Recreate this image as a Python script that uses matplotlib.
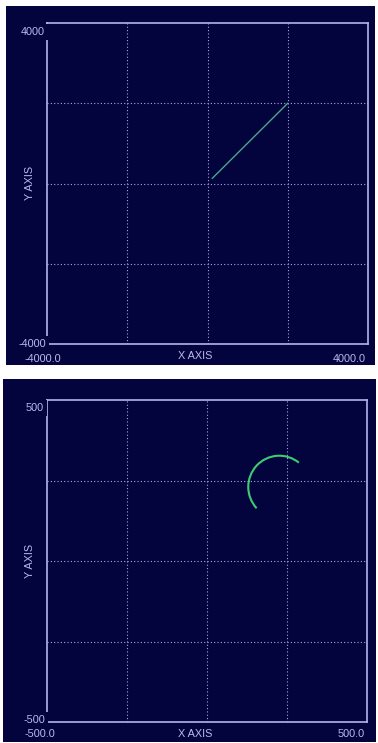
import numpy as np
import matplotlib
matplotlib.use('Agg')
import matplotlib.pyplot as plt
from matplotlib.patches import Rectangle, Arc

plt.rcParams['font.family'] = ['Liberation Sans', 'DejaVu Sans']

W, H = 378, 743          # figure size in pixels
NAVY = '#03033e'
FG = '#babaee'           # text colour
GRID = '#a8a8dc'
SPINE = '#b4b4ec'

# --- panel 1 : straight move
lim1 = 4000
line_x = [120, 2000]
line_y = [130, 2000]

# --- panel 2 : arc move (centre, radius, start/end angle in degrees)
lim2 = 500
arc_center = (226, 230)
arc_radius = 97
arc_theta = (51, 223)


def px_rect(x0, y0, x1, y1):
    # pixel box (top-left origin) -> figure fraction [l, b, w, h]
    return [x0 / W, 1 - y1 / H, (x1 - x0) / W, (y1 - y0) / H]


def px_text(fig, x, y, s, **kw):
    fig.text(x / W, 1 - y / H, s, color=FG, fontsize=7.8, **kw)


def setup_axes(ax, lim):
    ax.set_facecolor(NAVY)
    ax.set_xlim(-lim, lim)
    ax.set_ylim(-lim, lim)
    ax.set_xticks([-lim / 2, 0, lim / 2])
    ax.set_yticks([-lim / 2, 0, lim / 2])
    ax.tick_params(length=0, labelbottom=False, labelleft=False)
    ax.grid(True, color=GRID, linestyle=(0, (1, 2)), linewidth=0.8)
    for sp in ax.spines.values():
        sp.set_color(SPINE)
        sp.set_linewidth(1.2)


fig = plt.figure(figsize=(W / 100, H / 100), dpi=100, facecolor='white')

# dark panel backgrounds
for x0, y0, x1, y1 in [(6, 6, 375, 365), (3, 379, 376, 742)]:
    l, b, w, h = px_rect(x0, y0, x1, y1)
    fig.patches.append(Rectangle((l, b), w, h, transform=fig.transFigure,
                                 facecolor=NAVY, edgecolor='none', zorder=-1))

ax1 = fig.add_axes(px_rect(47, 23, 368, 344))
setup_axes(ax1, lim1)
ax1.plot(line_x, line_y, color='#48a888', linewidth=1.0)

ax2 = fig.add_axes(px_rect(47, 400, 367, 722))
setup_axes(ax2, lim2)
ax2.add_patch(Arc(arc_center, 2 * arc_radius, 2 * arc_radius,
                  theta1=arc_theta[0], theta2=arc_theta[1],
                  color='#3ccc72', linewidth=1.5))

box = dict(facecolor=NAVY, edgecolor='none', pad=2.5)

# labels, panel 1
px_text(fig, 45, 35, str(lim1), ha='right', va='baseline', bbox=box, zorder=5)
px_text(fig, 46, 347, str(-lim1), ha='right', va='baseline', bbox=box, zorder=5)
px_text(fig, 25, 362, '%.1f' % -lim1, ha='left', va='baseline')
px_text(fig, 366, 362, '%.1f' % lim1, ha='right', va='baseline')
px_text(fig, 195.5, 359, 'X AXIS', ha='center', va='baseline')
px_text(fig, 30, 183, 'Y AXIS', ha='center', va='center', rotation=90)

# labels, panel 2
px_text(fig, 44, 411, str(lim2), ha='right', va='baseline', bbox=box, zorder=5)
px_text(fig, 45, 723, str(-lim2), ha='right', va='baseline', bbox=box, zorder=5)
px_text(fig, 25, 737, '%.1f' % -lim2, ha='left', va='baseline')
px_text(fig, 365, 737, '%.1f' % lim2, ha='right', va='baseline')
px_text(fig, 195, 737, 'X AXIS', ha='center', va='baseline')
px_text(fig, 30, 561, 'Y AXIS', ha='center', va='center', rotation=90)

fig.savefig('out.png', dpi=100, facecolor='white')
